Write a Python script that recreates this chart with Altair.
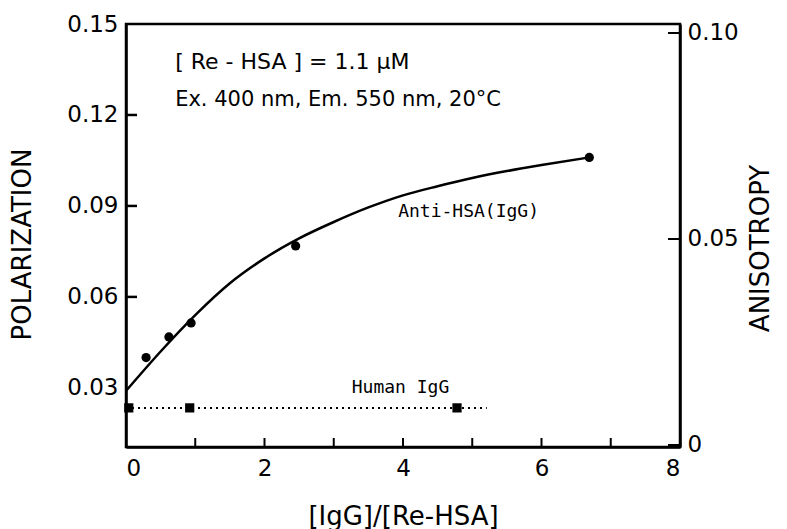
import altair as alt
import pandas as pd

# Anti-HSA (IgG) measured points
anti_x = [0.29, 0.62, 0.94, 2.45, 6.69]
anti_p = [0.0400, 0.0468, 0.0514, 0.0768, 0.1060]

# fitted curve
curve_x = [0.0, 0.5, 1.0, 1.5, 2.0, 2.5, 3.0, 3.5, 4.0, 4.5, 5.0, 5.5, 6.0, 6.69]
curve_p = [0.0290, 0.0420, 0.0540, 0.0645, 0.0727, 0.0793, 0.0847, 0.0895,
           0.0935, 0.0965, 0.0992, 0.1015, 0.1035, 0.1060]

# Human IgG points and dotted line
human_x = [0.04, 0.92, 4.78]
human_p = [0.0234, 0.0234, 0.0234]
dotted_x = [0.0, 5.21]
dotted_p = [0.0234, 0.0234]

left_ticks = [0.03, 0.06, 0.09, 0.12, 0.15]
right_ticks = [0.0, 0.05, 0.10]
x_labels = [0, 2, 4, 6, 8]
x_minor = [1, 2, 3, 4, 5, 6, 7]

W, H = 554, 423
FONT = "DejaVu Sans"

xs = alt.Scale(domain=[0, 8], nice=False, zero=False)
ys = alt.Scale(domain=[0.0105, 0.15], nice=False, zero=False)
rs = alt.Scale(domain=[-0.00049, 0.10218], nice=False, zero=False)

x_axis = alt.Axis(values=x_labels, format="d", title="[IgG]/[Re-HSA]",
                  titleX=277, titleY=69, titleBaseline="middle", titleAlign="center",
                  labelPadding=10)
y_axis = alt.Axis(values=left_ticks, format=".2f", title="POLARIZATION",
                  titleX=-104, titleY=220, titleAngle=270, titleAlign="center",
                  titleBaseline="middle", labelPadding=8)
r_axis = alt.Axis(values=right_ticks, orient="right", title="ANISOTROPY",
                  labelExpr="datum.value == 0 ? '0' : format(datum.value, '.2f')",
                  titleX=80, titleY=224, titleAngle=270, titleAlign="center",
                  titleBaseline="middle", labelPadding=7)

X = alt.X("x:Q", scale=xs, axis=x_axis)
Y = alt.Y("p:Q", scale=ys, axis=y_axis)

curve_df = pd.DataFrame({"x": curve_x, "p": curve_p})
anti_df = pd.DataFrame({"x": anti_x, "p": anti_p})
human_df = pd.DataFrame({"x": human_x, "p": human_p})
dot_df = pd.DataFrame({"x": dotted_x, "p": dotted_p})

curve = alt.Chart(curve_df).mark_line(color="black", strokeWidth=2.5,
                                      interpolate="monotone").encode(x=X, y=Y)
anti = alt.Chart(anti_df).mark_point(shape="circle", filled=True, size=85,
                                     color="black", opacity=1).encode(x=X, y=Y)
dotted = alt.Chart(dot_df).mark_line(color="black", strokeWidth=2,
                                     strokeDash=[2, 4]).encode(x=X, y=Y)
human = alt.Chart(human_df).mark_point(shape="square", filled=True, size=85,
                                       color="black", opacity=1).encode(x=X, y=Y)

xt_df = pd.DataFrame({"x": x_minor})
xticks = alt.Chart(xt_df).mark_rule(color="black", strokeWidth=2).encode(
    x=X, y=alt.value(H), y2=alt.value(H - 9))

ann1 = pd.DataFrame({"x": [0.71], "p": [0.1375], "t": ["[ Re - HSA ] = 1.1 \u03bcM"]})
ann2 = pd.DataFrame({"x": [0.71], "p": [0.1250], "t": ["Ex. 400 nm, Em. 550 nm, 20\u00b0C"]})
ann3 = pd.DataFrame({"x": [3.93], "p": [0.0880], "t": ["Anti-HSA(IgG)"]})
ann4 = pd.DataFrame({"x": [3.26], "p": [0.0300], "t": ["Human IgG"]})

def txt(df, size, font):
    return alt.Chart(df).mark_text(align="left", baseline="middle", fontSize=size,
                                   font=font, color="black").encode(x=X, y=Y, text="t:N")

left_group = alt.layer(
    curve, dotted, anti, human, xticks,
    txt(ann1, 22, FONT), txt(ann2, 21, FONT),
    txt(ann3, 18, "DejaVu Sans Mono"), txt(ann4, 18, "DejaVu Sans Mono"),
)

rt_df = pd.DataFrame({"r": right_ticks})
rticks = alt.Chart(rt_df).mark_rule(color="black", strokeWidth=2).encode(
    y=alt.Y("r:Q", scale=rs, axis=r_axis),
    x=alt.value(W - 12), x2=alt.value(W))

# inward tick marks on the left axis, own (identical) scale, no axis
lt_df = pd.DataFrame({"pt": left_ticks[1:-1]})
lticks = alt.Chart(lt_df).mark_rule(color="black", strokeWidth=2.5).encode(
    y=alt.Y("pt:Q", scale=ys, axis=None),
    x=alt.value(0), x2=alt.value(11))

chart = alt.layer(left_group, rticks, lticks).resolve_scale(y="independent").properties(
    width=W, height=H,
    background="white",
    autosize=alt.AutoSizeParams(type="none"),
    padding={"left": 118, "top": 16, "right": 99, "bottom": 82},
).configure_view(stroke="black", strokeWidth=2.5).configure_axis(
    grid=False, ticks=False, tickSize=0, domainColor="black", domainWidth=2.5,
    labelFont=FONT, labelFontSize=23, labelColor="black",
    titleFont=FONT, titleFontSize=26, titleFontWeight="normal", titleColor="black",
)

chart.save("out.html", embed_options={"renderer": "svg", "actions": False})
